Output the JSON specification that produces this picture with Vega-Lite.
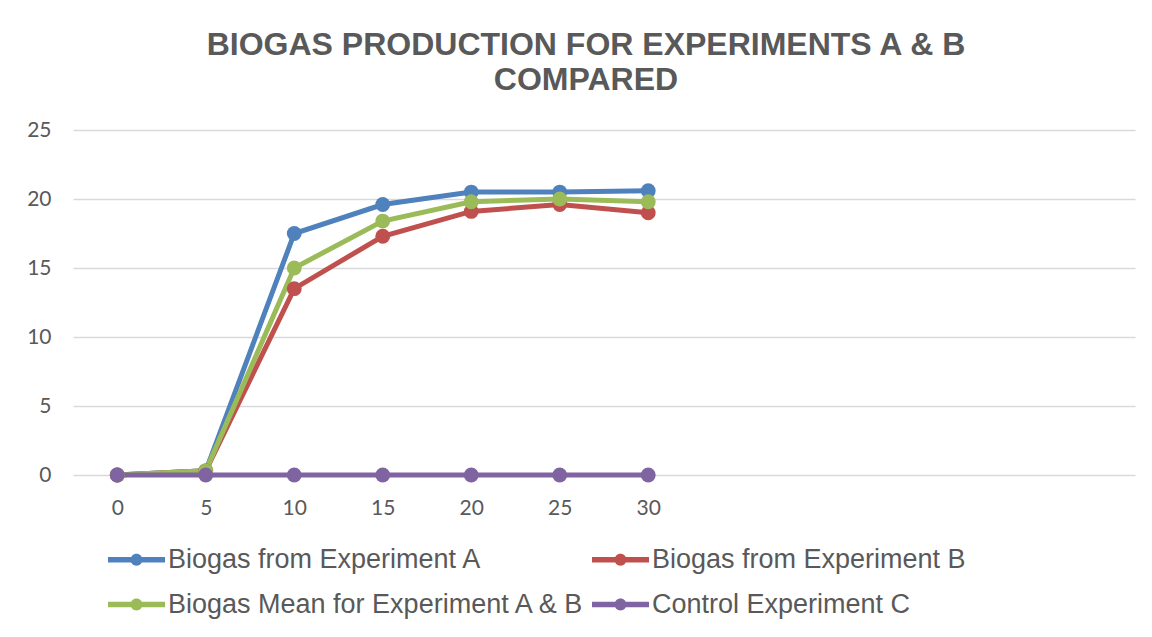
{
  "$schema": "https://vega.github.io/schema/vega-lite/v6.json",
  "width": 1062,
  "height": 345,
  "autosize": "none",
  "padding": {"left": 73, "top": 130, "right": 17, "bottom": 162},
  "background": "white",
  "title": {
    "text": ["BIOGAS PRODUCTION FOR EXPERIMENTS A & B", "COMPARED"],
    "font": "Liberation Sans",
    "fontSize": 32,
    "fontWeight": "bold",
    "color": "#595959",
    "anchor": "middle",
    "dx": -18,
    "offset": 22,
    "lineHeight": 35
  },
  "config": {
    "view": {"stroke": null},
    "axis": {
      "labelFont": "Lato",
      "labelFontSize": 21,
      "labelColor": "#595959",
      "domain": false,
      "ticks": false,
      "title": null
    }
  },
  "data": {
    "values": [
      {"day": 0, "series": "Biogas from Experiment A", "biogas": 0},
      {"day": 5, "series": "Biogas from Experiment A", "biogas": 0.3},
      {"day": 10, "series": "Biogas from Experiment A", "biogas": 17.5},
      {"day": 15, "series": "Biogas from Experiment A", "biogas": 19.6},
      {"day": 20, "series": "Biogas from Experiment A", "biogas": 20.5},
      {"day": 25, "series": "Biogas from Experiment A", "biogas": 20.5},
      {"day": 30, "series": "Biogas from Experiment A", "biogas": 20.6},
      {"day": 0, "series": "Biogas from Experiment B", "biogas": 0},
      {"day": 5, "series": "Biogas from Experiment B", "biogas": 0.3},
      {"day": 10, "series": "Biogas from Experiment B", "biogas": 13.5},
      {"day": 15, "series": "Biogas from Experiment B", "biogas": 17.3},
      {"day": 20, "series": "Biogas from Experiment B", "biogas": 19.1},
      {"day": 25, "series": "Biogas from Experiment B", "biogas": 19.6},
      {"day": 30, "series": "Biogas from Experiment B", "biogas": 19.0},
      {"day": 0, "series": "Biogas Mean for Experiment A & B", "biogas": 0},
      {"day": 5, "series": "Biogas Mean for Experiment A & B", "biogas": 0.3},
      {"day": 10, "series": "Biogas Mean for Experiment A & B", "biogas": 15.0},
      {"day": 15, "series": "Biogas Mean for Experiment A & B", "biogas": 18.4},
      {"day": 20, "series": "Biogas Mean for Experiment A & B", "biogas": 19.8},
      {"day": 25, "series": "Biogas Mean for Experiment A & B", "biogas": 20.0},
      {"day": 30, "series": "Biogas Mean for Experiment A & B", "biogas": 19.8},
      {"day": 0, "series": "Control Experiment C", "biogas": 0},
      {"day": 5, "series": "Control Experiment C", "biogas": 0},
      {"day": 10, "series": "Control Experiment C", "biogas": 0},
      {"day": 15, "series": "Control Experiment C", "biogas": 0},
      {"day": 20, "series": "Control Experiment C", "biogas": 0},
      {"day": 25, "series": "Control Experiment C", "biogas": 0},
      {"day": 30, "series": "Control Experiment C", "biogas": 0}
    ]
  },
  "mark": {
    "type": "line",
    "strokeWidth": 5,
    "point": {"filled": true, "size": 220, "opacity": 1}
  },
  "encoding": {
    "x": {
      "field": "day",
      "type": "quantitative",
      "scale": {"domain": [-2.5, 57.5], "nice": false, "zero": false},
      "axis": {
        "values": [0, 5, 10, 15, 20, 25, 30],
        "grid": false,
        "labelPadding": 22,
        "labelFlush": false
      }
    },
    "y": {
      "field": "biogas",
      "type": "quantitative",
      "scale": {"domain": [0, 25], "nice": false},
      "axis": {
        "values": [0, 5, 10, 15, 20, 25],
        "grid": true,
        "gridColor": "#d9d9d9",
        "gridWidth": 1.5,
        "labelPadding": 22
      }
    },
    "color": {
      "field": "series",
      "type": "nominal",
      "sort": ["Biogas from Experiment A", "Biogas from Experiment B", "Biogas Mean for Experiment A & B", "Control Experiment C"],
      "scale": {
        "domain": ["Biogas from Experiment A", "Biogas from Experiment B", "Biogas Mean for Experiment A & B", "Control Experiment C"],
        "range": ["#4f81bd", "#c0504d", "#9bbb59", "#8064a2"]
      },
      "legend": {
        "title": null,
        "orient": "none",
        "legendX": 35,
        "legendY": 401,
        "direction": "horizontal",
        "columns": 2,
        "columnPadding": 6,
        "rowPadding": 3,
        "labelFont": "Liberation Sans",
        "labelFontSize": 27,
        "labelColor": "#595959",
        "labelOffset": 3,
        "labelLimit": 600,
        "symbolType": "M-1,-0.1H1V0.1H-1Z M-0.21,0A0.21,0.21 0 1,1 0.21,0A0.21,0.21 0 1,1 -0.21,0Z",
        "symbolSize": 3249,
        "symbolStrokeWidth": 0,
        "encode": {
          "symbols": {
            "update": {
              "fill": {"scale": "color", "field": "value"},
              "fillOpacity": {"value": 1},
              "strokeWidth": {"value": 0}
            }
          }
        }
      }
    }
  }
}
